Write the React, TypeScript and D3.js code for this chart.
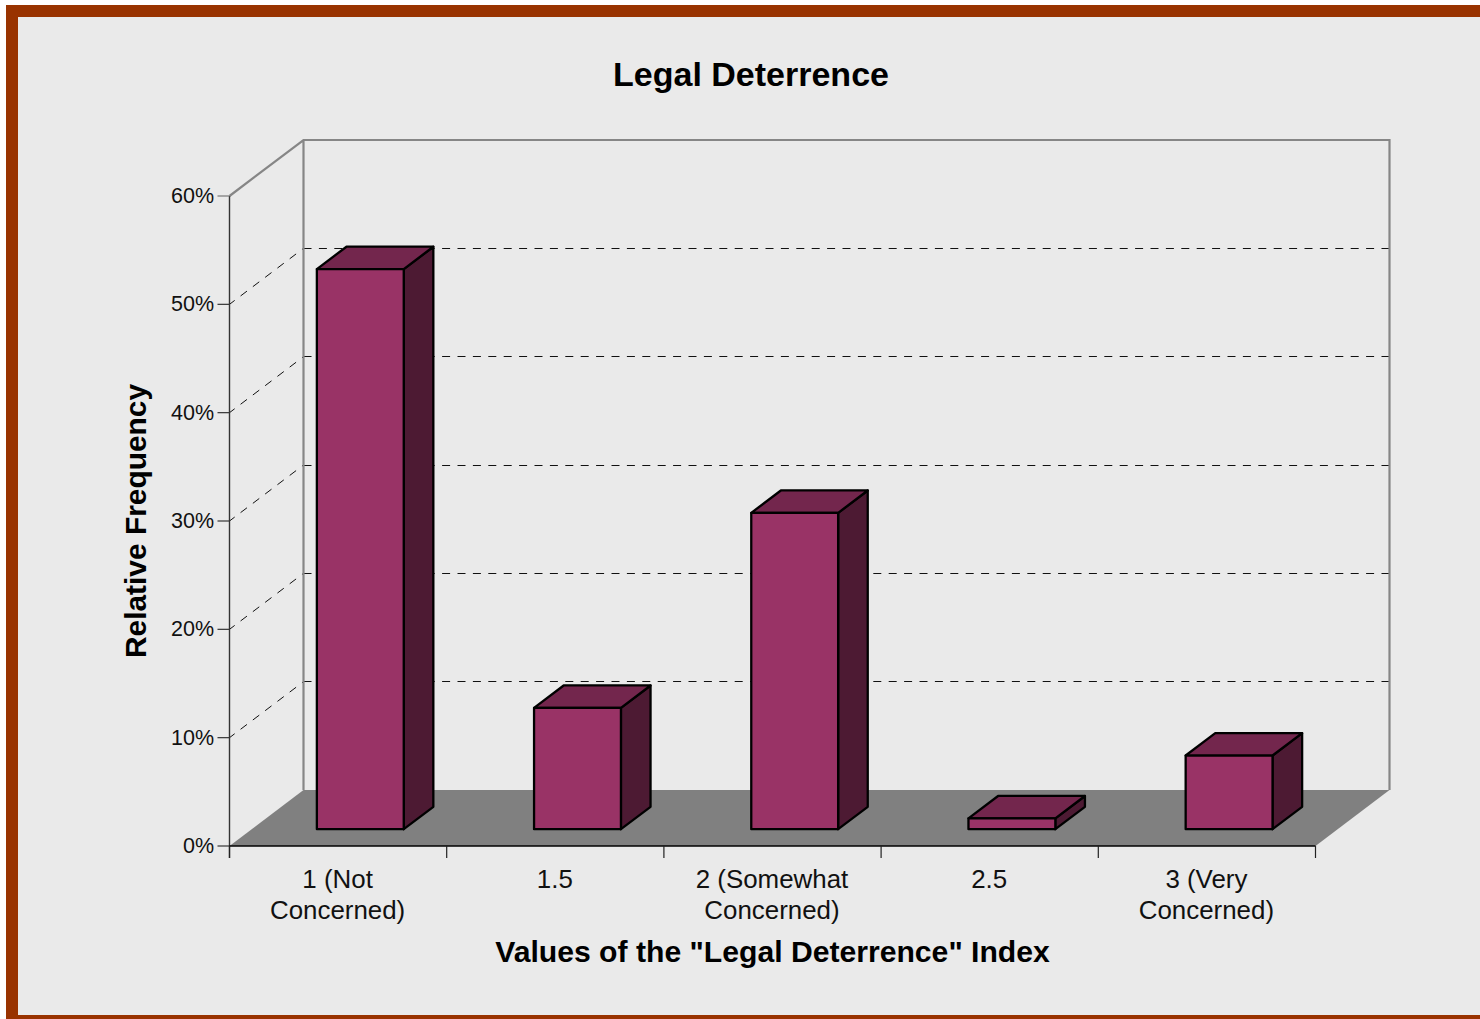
import React from "react";
import * as d3 from "d3";

const categories = [["1 (Not", "Concerned)"], ["1.5"], ["2 (Somewhat", "Concerned)"], ["2.5"], ["3 (Very", "Concerned)"]];
const frequencies = [51.7, 11.2, 29.2, 1.0, 6.8];
const yTicks = [0, 10, 20, 30, 40, 50, 60];
const gridTicks = [10, 20, 30, 40, 50];
const chartTitle = "Legal Deterrence";
const xTitle = 'Values of the "Legal Deterrence" Index';
const yTitle = "Relative Frequency";

const WIDTH = 1480;
const HEIGHT = 1019;
const FONT = "'Liberation Sans', Arial, sans-serif";

// Front plane of the plot box and its oblique depth offset.
const frontLeft = 229.5;
const frontRight = 1315.5;
const frontBottom = 846;
const frontTop = 196;
const depthX = 74;
const depthY = -56;

const x = d3.scaleBand<number>().domain(d3.range(categories.length)).range([frontLeft, frontRight]).paddingInner(0).paddingOuter(0);
const y = d3.scaleLinear().domain([0, 60]).range([frontBottom, frontTop]);

// Maps a point on the front plane back by a fraction of the box depth.
const project = (px: number, py: number, z: number): [number, number] => [px + depthX * z, py + depthY * z];
const poly = (pts: [number, number][]) => d3.line()(pts)! + "Z";

const BAR_FRACTION = 0.4;
const BAR_Z0 = 0.3;
const BAR_Z1 = 0.7;
const GRID_DASH = "8 7.4";

export default function App() {
  const floor: [number, number][] = [
    [frontLeft, frontBottom],
    [frontRight, frontBottom],
    project(frontRight, frontBottom, 1),
    project(frontLeft, frontBottom, 1),
  ];
  const backLeft = frontLeft + depthX;
  const backRight = frontRight + depthX;
  const backTop = frontTop + depthY;
  const backBottom = frontBottom + depthY;

  return (
    <svg
      width={WIDTH}
      height={HEIGHT}
      viewBox={`0 0 ${WIDTH} ${HEIGHT}`}
      style={{ position: "absolute", left: 0, top: 0, display: "block" }}
      fontFamily={FONT}
    >
      <rect x={12} y={11} width={WIDTH + 40} height={1010} fill="#eaeaea" stroke="#993300" strokeWidth={12} />

      <text x={751} y={86} textAnchor="middle" fontSize={34} fontWeight="bold" fill="#000">{chartTitle}</text>

      {/* dashed gridlines across the side wall and back wall */}
      {gridTicks.map((t) => (
        <g key={t} stroke="#111" strokeWidth={1} fill="none">
          <line x1={frontLeft} y1={y(t)} x2={backLeft} y2={y(t) + depthY} strokeDasharray={GRID_DASH} strokeDashoffset={1.5} />
          <line
            x1={backLeft}
            y1={Math.floor(y(t) + depthY) + 0.5}
            x2={backRight}
            y2={Math.floor(y(t) + depthY) + 0.5}
            strokeDasharray={GRID_DASH}
          />
        </g>
      ))}

      {/* floor and back walls */}
      <path d={poly(floor)} fill="#808080" />
      <path
        d={`M${frontLeft},${frontTop}L${backLeft},${backTop}L${backRight},${backTop}L${backRight},${backBottom}M${backLeft},${backTop}L${backLeft},${backBottom}`}
        fill="none"
        stroke="#868686"
        strokeWidth={2.2}
      />

      {/* y axis */}
      <line x1={frontLeft} y1={frontTop} x2={frontLeft} y2={frontBottom + 12} stroke="#333" strokeWidth={1.4} />
      {yTicks.map((t) => (
        <g key={t}>
          <line x1={frontLeft - 12} x2={frontLeft} y1={y(t)} y2={y(t)} stroke={t === 60 ? "#777" : "#333"} strokeWidth={1.2} />
          <text x={frontLeft - 15.5} y={y(t) + 7} textAnchor="end" fontSize={21.5} fill="#111">{t}%</text>
        </g>
      ))}

      {/* x axis */}
      <line x1={frontLeft} x2={frontRight} y1={frontBottom} y2={frontBottom} stroke="#000" strokeWidth={1.5} />
      {d3.range(categories.length + 1).map((i) => {
        const tx = frontLeft + x.step() * i;
        return <line key={i} x1={tx} x2={tx} y1={frontBottom} y2={frontBottom + 12} stroke="#222" strokeWidth={1.2} />;
      })}
      {categories.map((lines, i) => (
        <text key={i} textAnchor="middle" fontSize={25.9} fill="#111">
          {lines.map((ln, j) => (
            <tspan key={j} x={x(i)! + x.bandwidth() / 2 - 0.5} y={888 + j * 31}>{ln}</tspan>
          ))}
        </text>
      ))}

      {/* bars drawn as oblique boxes */}
      {frequencies.map((v, i) => {
        const barW = x.bandwidth() * BAR_FRACTION;
        const x0 = x(i)! + (x.bandwidth() - barW) / 2;
        const x1 = x0 + barW;
        const base = y(0);
        const top = y(v);
        const front: [number, number][] = [
          project(x0, top, BAR_Z0),
          project(x1, top, BAR_Z0),
          project(x1, base, BAR_Z0),
          project(x0, base, BAR_Z0),
        ];
        const lid: [number, number][] = [
          project(x0, top, BAR_Z0),
          project(x0, top, BAR_Z1),
          project(x1, top, BAR_Z1),
          project(x1, top, BAR_Z0),
        ];
        const side: [number, number][] = [
          project(x1, top, BAR_Z0),
          project(x1, top, BAR_Z1),
          project(x1, base, BAR_Z1),
          project(x1, base, BAR_Z0),
        ];
        return (
          <g key={i} stroke="#000" strokeWidth={2.3} strokeLinejoin="round">
            <path d={poly(side)} fill="#4d1a33" />
            <path d={poly(lid)} fill="#73264d" />
            <path d={poly(front)} fill="#993366" />
          </g>
        );
      })}

      <text x={772.5} y={962} textAnchor="middle" fontSize={30.15} fontWeight="bold" fill="#000">{xTitle}</text>
      <text transform="translate(146,521) rotate(-90)" textAnchor="middle" fontSize={29.9} fontWeight="bold" fill="#000">{yTitle}</text>
    </svg>
  );
}
